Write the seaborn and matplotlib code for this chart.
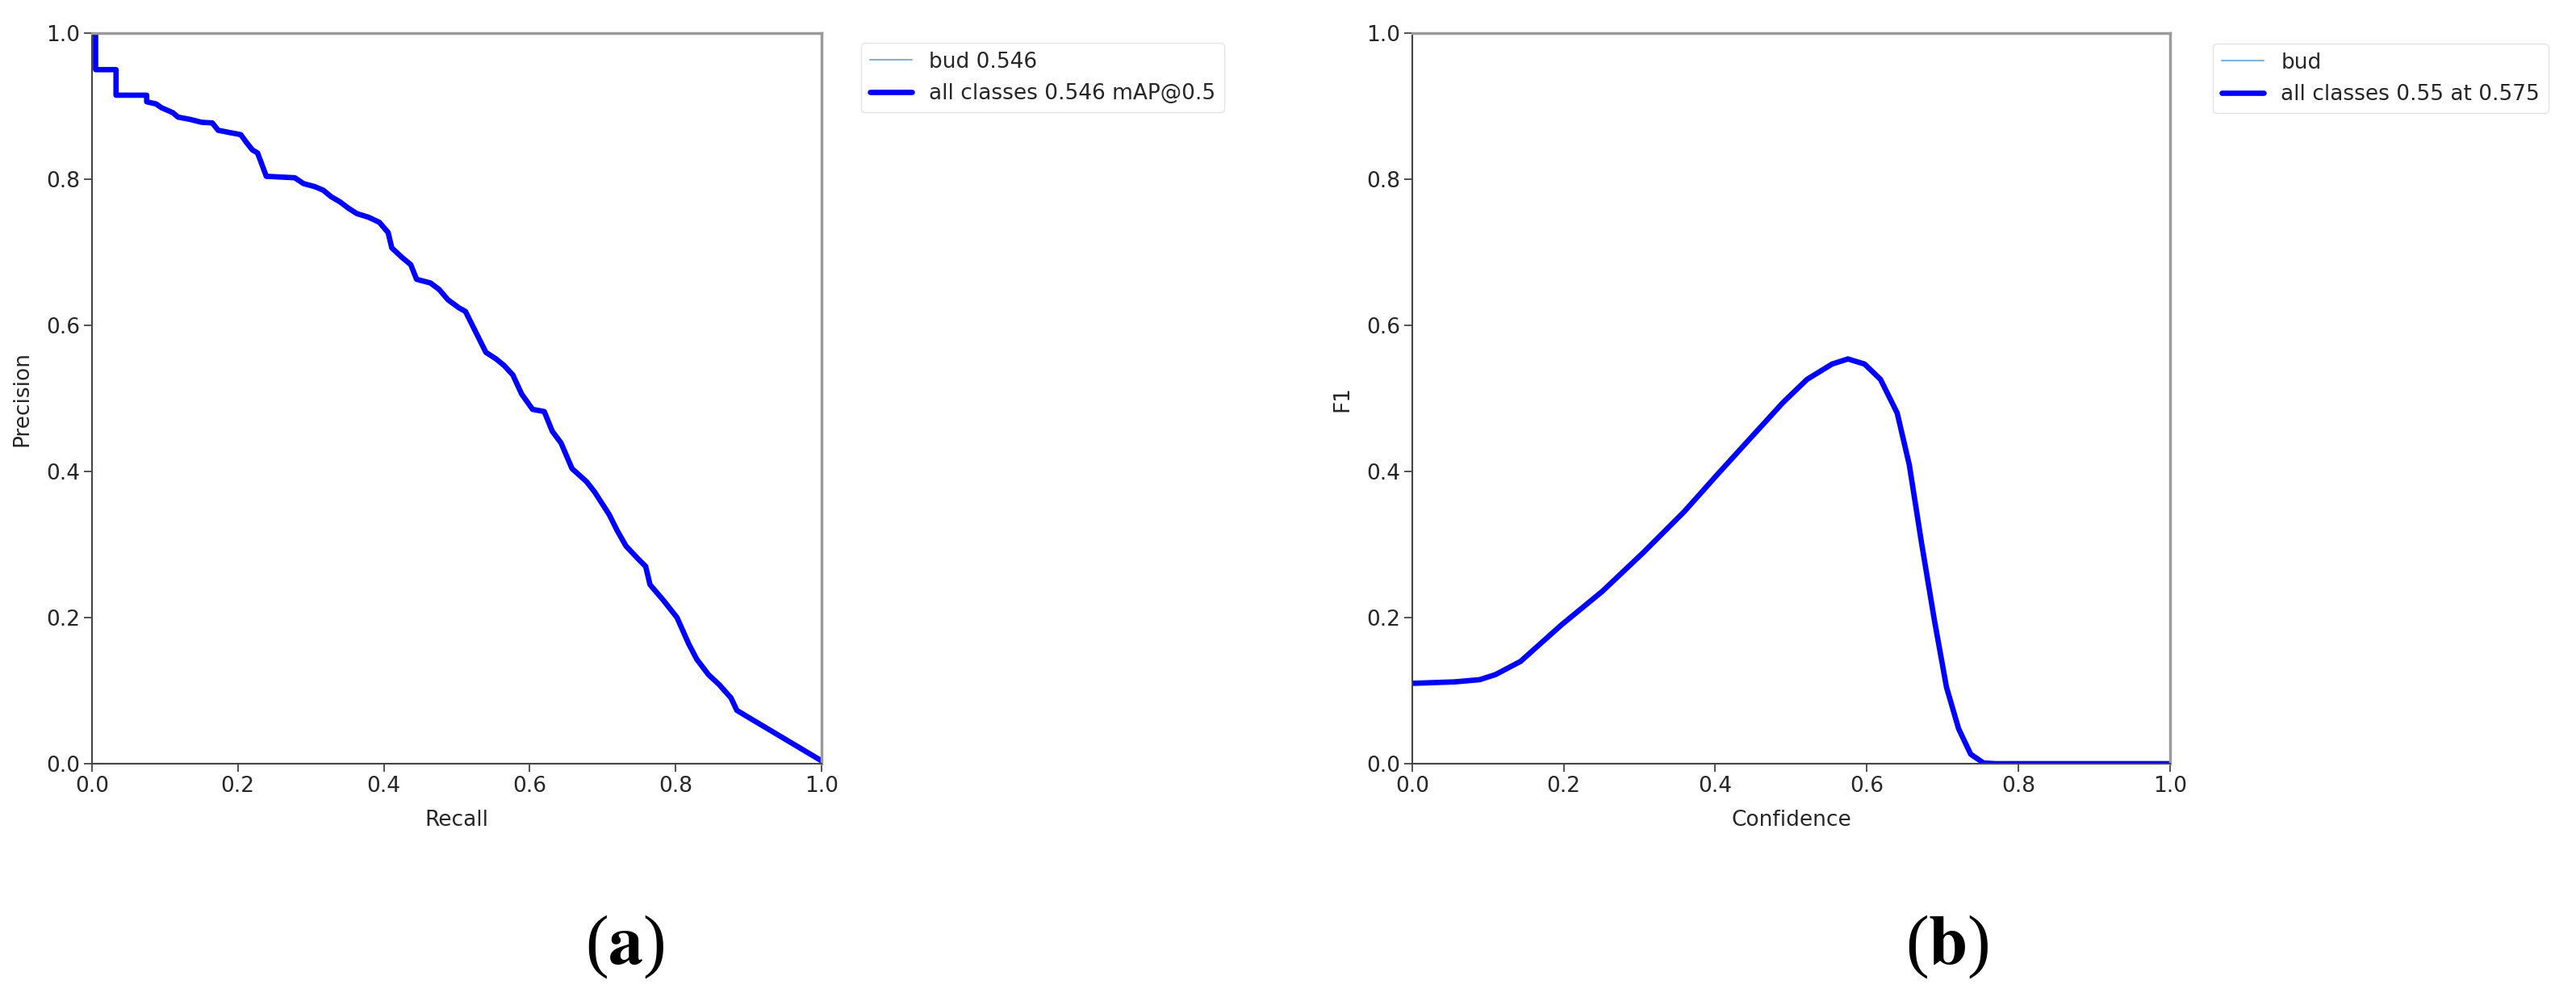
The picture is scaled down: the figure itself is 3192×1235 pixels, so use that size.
import numpy as np
import pandas as pd
import matplotlib
matplotlib.use("Agg")
import matplotlib.pyplot as plt
import seaborn as sns

#%% Data

# (a) precision-recall curve
recall = [0.0, 0.005, 0.005, 0.033, 0.033, 0.075, 0.075, 0.088, 0.095, 0.111, 0.118,
          0.134, 0.15, 0.165, 0.173, 0.188, 0.204, 0.212, 0.22, 0.227, 0.239, 0.278,
          0.29, 0.305, 0.317, 0.328, 0.34, 0.352, 0.363, 0.379, 0.394, 0.406, 0.411,
          0.425, 0.437, 0.445, 0.464, 0.476, 0.488, 0.503, 0.512, 0.526, 0.54, 0.554,
          0.565, 0.577, 0.589, 0.604, 0.62, 0.631, 0.643, 0.658, 0.678, 0.689, 0.709,
          0.72, 0.732, 0.748, 0.759, 0.765, 0.783, 0.802, 0.818, 0.829, 0.845, 0.86,
          0.876, 0.884, 0.899, 1.0]
precision = [1.0, 1.0, 0.95, 0.95, 0.915, 0.915, 0.906, 0.903, 0.898, 0.891, 0.885,
             0.882, 0.878, 0.877, 0.867, 0.864, 0.861, 0.85, 0.84, 0.836, 0.804, 0.802,
             0.794, 0.79, 0.785, 0.776, 0.769, 0.76, 0.753, 0.748, 0.741, 0.727, 0.706,
             0.693, 0.683, 0.663, 0.658, 0.649, 0.635, 0.624, 0.619, 0.591, 0.563, 0.554,
             0.545, 0.532, 0.506, 0.485, 0.482, 0.455, 0.439, 0.404, 0.386, 0.372, 0.341,
             0.319, 0.298, 0.281, 0.27, 0.245, 0.224, 0.2, 0.164, 0.143, 0.122, 0.108,
             0.09, 0.073, 0.064, 0.004]

# (b) F1-confidence curve
confidence = [0.0, 0.056, 0.089, 0.11, 0.143, 0.197, 0.251, 0.305, 0.359, 0.402, 0.445,
              0.489, 0.521, 0.554, 0.575, 0.597, 0.618, 0.64, 0.656, 0.672, 0.689, 0.705,
              0.721, 0.737, 0.754, 0.77, 1.0]
f1 = [0.11, 0.112, 0.115, 0.122, 0.14, 0.19, 0.236, 0.289, 0.345, 0.395, 0.444,
      0.494, 0.526, 0.547, 0.554, 0.547, 0.526, 0.48, 0.409, 0.303, 0.197, 0.105,
      0.048, 0.013, 0.001, 0.0, 0.0]

pr_df = pd.DataFrame({"Recall": recall, "Precision": precision})
f1_df = pd.DataFrame({"Confidence": confidence, "F1": f1})

#%% Plot
sns.set_style("ticks")
plt.rcParams["font.family"] = ["DejaVu Sans"]
plt.rcParams["mathtext.fontset"] = "stix"

fig = plt.figure(figsize=(31.92, 12.35), dpi=100)
ax1 = fig.add_axes([0.0357, 0.234, 0.2832, 0.7328])
ax2 = fig.add_axes([0.5482, 0.234, 0.2942, 0.7328])

def draw(ax, df, x, y, lab_cls, lab_all, legend_xy):
    sns.lineplot(data=df, x=x, y=y, ax=ax, sort=False, estimator=None,
                 color="#7fb2dd", linewidth=1.5, label=lab_cls)
    sns.lineplot(data=df, x=x, y=y, ax=ax, sort=False, estimator=None,
                 color="blue", linewidth=4.8, label=lab_all)
    ax.set_xlim(0, 1)
    ax.set_ylim(0, 1)
    ax.set_xticks(np.arange(0, 1.01, 0.2))
    ax.set_yticks(np.arange(0, 1.01, 0.2))
    ax.tick_params(labelsize=19, length=7, width=1.2, color="#333333")
    ax.set_xlabel(x, fontsize=19, labelpad=12)
    ax.set_ylabel(y, fontsize=19, labelpad=12)
    for s in ["left", "bottom"]:
        ax.spines[s].set_color("#444444")
        ax.spines[s].set_linewidth(1.5)
    for s in ["top", "right"]:
        ax.spines[s].set_color("#9a9a9a")
        ax.spines[s].set_linewidth(2.5)
    ax.legend(loc="upper left", bbox_to_anchor=legend_xy, bbox_transform=fig.transFigure,
              borderaxespad=0, fontsize=19, frameon=True, edgecolor="#dddddd")

draw(ax1, pr_df, "Recall", "Precision", "bud 0.546", "all classes 0.546 mAP@0.5",
     (1067 / 3192, 1 - 53 / 1235))
draw(ax2, f1_df, "Confidence", "F1", "bud", "all classes 0.55 at 0.575",
     (2742 / 3192, 1 - 54 / 1235))

# panel letters: plain parentheses, bold letter
for xpos, letter in [(774, "a"), (2413, "b")]:
    fig.text(xpos / 3192, 1 - 1173 / 1235, r"($\mathbf{" + letter + r"}$)",
             ha="center", va="center", fontsize=62, family="Liberation Serif",
             color="black")

plt.savefig("out.png", dpi=100)
plt.close()
